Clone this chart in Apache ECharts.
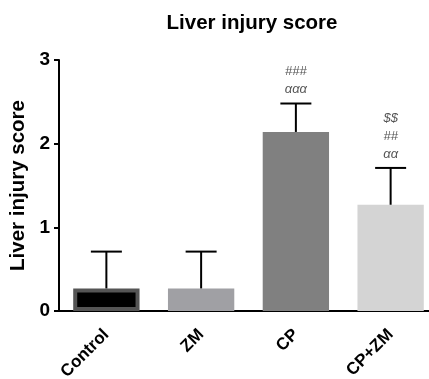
<!DOCTYPE html>
<html><head><meta charset="utf-8">
<script src="https://cdn.jsdelivr.net/npm/echarts@6/dist/echarts.min.js"></script>
<style>html,body{margin:0;padding:0;background:#fff}#c{width:429px;height:379px}</style>
</head><body><div id="c"></div>
<script>
var categories = ['Control', 'ZM', 'CP', 'CP+ZM'];
var means = [0.27, 0.27, 2.14, 1.27];
var upperErr = [0.71, 0.71, 2.48, 1.71];
var barColors = ['#000000', '#a0a0a4', '#808080', '#d4d4d4'];
var annotations = [[], [], ['###', 'ααα'], ['$$', '##', 'αα']];
var yTicks = [0, 1, 2, 3];

var chart = echarts.init(document.getElementById('c'), null, {renderer: 'canvas'});
var font = 'Arial, "Liberation Sans", sans-serif';
chart.setOption({
  animation: false,
  title: {text: 'Liver injury score', left: 247, top: 8, textAlign: 'center',
    textStyle: {fontFamily: font, fontSize: 20.5, fontWeight: 'bold', color: '#000'}},
  grid: {left: 59, top: 60, bottom: 68, right: -9, outerBoundsMode: 'none', containLabel: false},
  xAxis: {type: 'category', data: categories,
    axisLine: {lineStyle: {color: '#000', width: 2}},
    axisTick: {alignWithLabel: true, length: 6, lineStyle: {color: '#000', width: 2}},
    axisLabel: {rotate: 45, fontFamily: font, fontSize: 17, fontWeight: 'bold', color: '#000', margin: 21}},
  yAxis: {type: 'value', min: yTicks[0], max: yTicks[yTicks.length - 1], interval: 1,
    name: 'Liver injury score', nameLocation: 'middle', nameGap: 26,
    nameTextStyle: {fontFamily: font, fontSize: 20.5, fontWeight: 'bold', color: '#000'},
    axisLine: {show: true, lineStyle: {color: '#000', width: 2}},
    axisTick: {show: true, length: 5, lineStyle: {color: '#000', width: 2}},
    splitLine: {show: false},
    axisLabel: {fontFamily: font, fontSize: 19, fontWeight: 'bold', color: '#000', margin: 9}},
  series: [
    {type: 'bar', barWidth: '70%',
      data: means.map(function (v, i) {
        return {value: v, itemStyle: i === 0 ? {color: '#000', borderColor: '#555', borderWidth: 4} : {color: barColors[i]}};
      })},
    {type: 'custom', z: 5,
      data: categories.map(function (c, i) { return [i, means[i], upperErr[i]]; }),
      renderItem: function (params, api) {
        var i = api.value(0);
        var p0 = api.coord([i, api.value(1)]);
        var p1 = api.coord([i, api.value(2)]);
        var hw = 15.5;
        var children = [
          {type: 'line', shape: {x1: p0[0], y1: p0[1], x2: p1[0], y2: p1[1]}, style: {stroke: '#000', lineWidth: 2}},
          {type: 'line', shape: {x1: p1[0] - hw, y1: p1[1], x2: p1[0] + hw, y2: p1[1]}, style: {stroke: '#000', lineWidth: 2}}
        ];
        var ann = annotations[i];
        for (var k = 0; k < ann.length; k++) {
          children.push({type: 'text', style: {text: ann[ann.length - 1 - k], x: p1[0], y: p1[1] - 14 - k * 18,
            align: 'center', verticalAlign: 'middle', fill: '#555',
            font: 'italic 13px ' + font}});
        }
        return {type: 'group', children: children};
      }}
  ]
});
</script></body></html>
